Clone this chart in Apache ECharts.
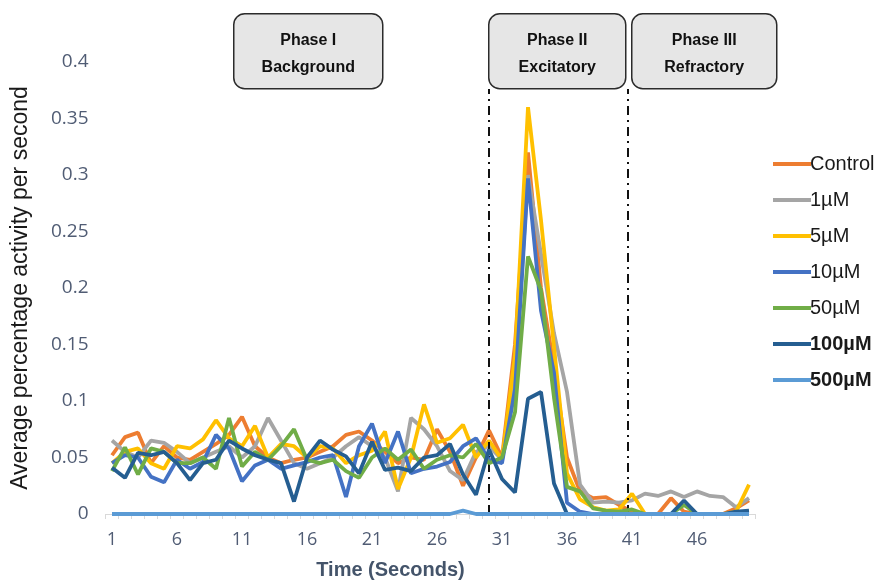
<!DOCTYPE html>
<html><head><meta charset="utf-8">
<script src="https://cdn.jsdelivr.net/npm/echarts@6/dist/echarts.min.js"></script>
<style>html,body{margin:0;padding:0;background:#fff}#c{width:879px;height:582px}</style>
</head><body><div id="c"></div>
<script>
const categories = Array.from({length:50},(_,i)=>String(i+1));
const seriesNames = ['Control','1µM','5µM','10µM','50µM','100µM','500µM'];
const control = [0.052,0.068,0.072,0.045,0.060,0.050,0.048,0.055,0.062,0.070,0.086,0.060,0.050,0.045,0.048,0.050,0.055,0.060,0.070,0.073,0.065,0.055,0.045,0.050,0.048,0.075,0.055,0.025,0.050,0.074,0.050,0.150,0.320,0.200,0.130,0.050,0.020,0.014,0.015,0.008,0.002,0.000,0.000,0.014,0.002,0.000,0.000,0.000,0.005,0.012];
const um1 = [0.065,0.055,0.050,0.065,0.063,0.055,0.045,0.050,0.055,0.060,0.050,0.060,0.085,0.065,0.045,0.040,0.045,0.050,0.060,0.068,0.060,0.050,0.020,0.085,0.075,0.060,0.038,0.030,0.055,0.060,0.048,0.120,0.300,0.230,0.160,0.108,0.026,0.010,0.011,0.010,0.012,0.018,0.016,0.020,0.015,0.020,0.016,0.015,0.006,0.014];
const um5 = [0.045,0.055,0.058,0.045,0.040,0.060,0.058,0.066,0.083,0.067,0.060,0.078,0.050,0.062,0.060,0.050,0.060,0.058,0.045,0.052,0.056,0.073,0.022,0.050,0.097,0.063,0.067,0.079,0.050,0.065,0.048,0.140,0.360,0.260,0.148,0.036,0.013,0.006,0.003,0.004,0.018,0.000,0.000,0.000,0.000,0.000,0.000,0.000,0.002,0.026];
const um10 = [0.045,0.052,0.050,0.033,0.028,0.048,0.040,0.046,0.070,0.058,0.029,0.043,0.048,0.040,0.043,0.046,0.050,0.052,0.015,0.060,0.080,0.045,0.073,0.036,0.040,0.042,0.046,0.060,0.067,0.048,0.045,0.110,0.297,0.180,0.125,0.010,0.002,0.000,0.000,0.000,0.000,0.000,0.000,0.000,0.000,0.000,0.000,0.000,0.000,0.000];
const um50 = [0.038,0.059,0.035,0.058,0.055,0.045,0.045,0.050,0.040,0.085,0.042,0.055,0.048,0.060,0.075,0.048,0.045,0.048,0.038,0.032,0.050,0.058,0.048,0.057,0.040,0.048,0.052,0.050,0.062,0.045,0.050,0.090,0.228,0.198,0.103,0.024,0.020,0.005,0.003,0.002,0.004,0.000,0.000,0.000,0.008,0.000,0.000,0.000,0.000,0.000];
const um100 = [0.041,0.032,0.054,0.052,0.055,0.045,0.030,0.045,0.048,0.065,0.058,0.052,0.048,0.045,0.011,0.050,0.065,0.057,0.051,0.036,0.064,0.039,0.041,0.038,0.050,0.052,0.062,0.035,0.017,0.057,0.031,0.019,0.102,0.108,0.027,0.000,0.000,0.000,0.000,0.000,0.000,0.000,0.000,0.000,0.012,0.000,0.000,0.000,0.002,0.003];
const um500 = [0,0,0,0,0,0,0,0,0,0,0,0,0,0,0,0,0,0,0,0,0,0,0,0,0,0,0,0.003,0,0,0,0,0,0,0,0,0,0,0,0,0,0,0,0,0,0,0,0,0,0];
const seriesValues = [control, um1, um5, um10, um50, um100, um500];
const colors = ['#ED7D31','#A5A5A5','#FFC000','#4472C4','#70AD47','#255E91','#5B9BD5'];
const boldNames = ['100µM','500µM'];
const phaseBoundaries = [30, 40.7];
const phaseLineTop = 0.376;
const phases = [['Phase I','Background'],['Phase II','Excitatory'],['Phase III','Refractory']];

const chart = echarts.init(document.getElementById('c'));
const series = seriesNames.map((n,i)=>({
  name:n, type:'line', data:seriesValues[i], showSymbol:false, symbol:'none',
  lineStyle:{width:3.8,color:colors[i]}, itemStyle:{color:colors[i]}, z:2+i, silent:true
}));
series.push({
  name:'phases', type:'line', xAxisIndex:1, data:[], silent:true,
  markLine:{silent:true, symbol:['none','none'], label:{show:false},
    lineStyle:{color:'#111', width:2, type:[9,5,2,5]},
    data: phaseBoundaries.map(v=>[{coord:[v,0]},{coord:[v,phaseLineTop]}])}
});
const boxes = [{x:233,w:149},{x:488,w:137},{x:631,w:145}];
const graphic = boxes.map((b,i)=>({
  type:'group', left:b.x, top:13, z:100,
  children:[
    {type:'rect', shape:{x:0,y:0,width:b.w,height:75,r:11}, style:{fill:'#e6e6e6',stroke:'#2b2b2b',lineWidth:1.5}},
    {type:'text', x:b.w/2, y:40, style:{text:phases[i].join('\n'), fill:'#111', font:'bold 16px "Liberation Sans", Arial, sans-serif', align:'center', verticalAlign:'middle', lineHeight:27}}
  ]
}));
chart.setOption({
  animation:false,
  color:colors,
  grid:{left:105.5, right:123.5, top:62, bottom:68, outerBoundsMode:'none', containLabel:false},
  legend:{
    orient:'vertical', left:768, top:149, itemGap:16, icon:'rect', itemWidth:38, itemHeight:4,
    data:seriesNames,
    formatter:n=> boldNames.includes(n) ? '{b|'+n+'}' : n,
    textStyle:{fontSize:20, color:'#1a1a1a', fontFamily:'"Liberation Sans", Arial, sans-serif', padding:[0,0,0,-6],
      rich:{b:{fontSize:20, fontWeight:'bold', color:'#1a1a1a', fontFamily:'"Liberation Sans", Arial, sans-serif'}}}
  },
  xAxis:[{
    type:'category', data:categories, boundaryGap:true,
    axisLine:{lineStyle:{color:'#d9d9d9', width:1}},
    axisTick:{show:true, interval:0, length:5, lineStyle:{color:'#d9d9d9'}},
    axisLabel:{interval:4, color:'#505c74', fontSize:18, margin:17, fontFamily:'"Open Sans", sans-serif'},
    name:'Time (Seconds)', nameLocation:'middle', nameGap:46,
    nameTextStyle:{fontSize:20, fontWeight:'bold', color:'#44546A', fontFamily:'"Liberation Sans", Arial, sans-serif', padding:[0,80,0,0]}
  },{
    type:'value', min:0.5, max:50.5, show:false
  }],
  yAxis:{
    type:'value', min:0, max:0.4, interval:0.05,
    splitLine:{show:false}, axisLine:{show:false}, axisTick:{show:false},
    axisLabel:{color:'#505c74', fontSize:19, margin:17, fontFamily:'"Open Sans", sans-serif'},
    name:'Average percentage activity per second', nameLocation:'middle', nameGap:73, nameRotate:90,
    nameTextStyle:{fontSize:23, color:'#1a1a1a', fontFamily:'"Liberation Sans", Arial, sans-serif'}
  },
  graphic:graphic,
  series:series
});
</script></body></html>
